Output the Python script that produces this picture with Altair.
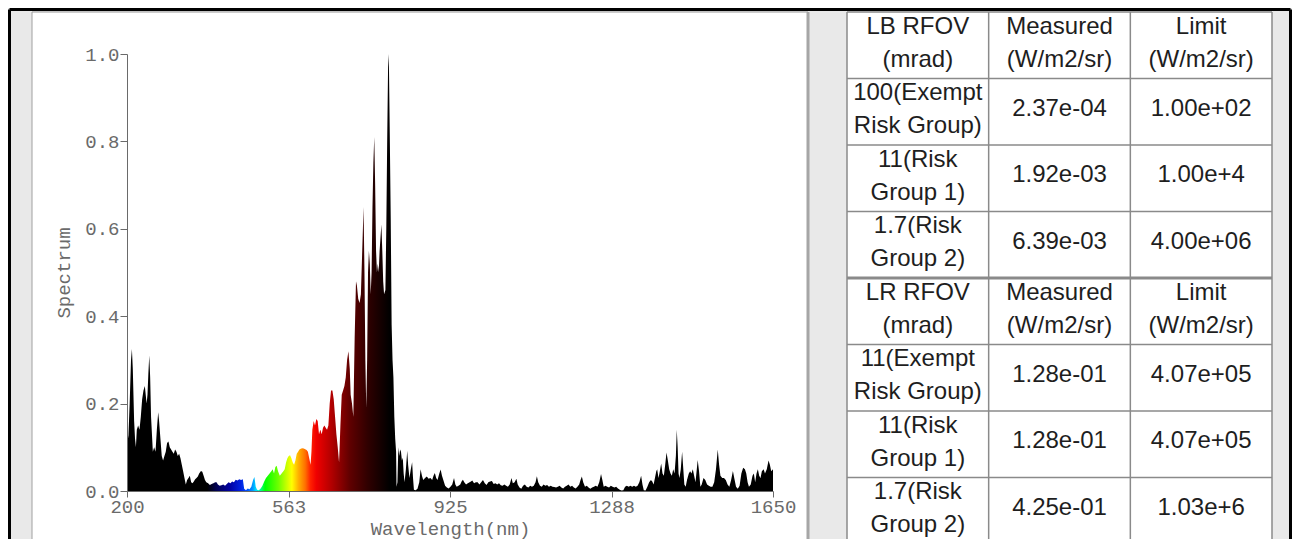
import altair as alt
import pandas as pd

# ---------------- spectrum data ----------------
WAVELENGTH_NM = [
    200, 203, 206, 209, 211, 213, 216, 218, 220, 222, 225, 228, 231, 234, 237, 240,
    242, 244, 246, 248, 250, 252, 254, 256, 258, 261, 264, 267, 270, 272, 275, 278,
    281, 284, 287, 290, 293, 296, 299, 302, 305, 308, 311, 314, 317, 320, 323, 326,
    329, 332, 335, 338, 341, 344, 347, 350, 353, 356, 359, 362, 366, 369, 372, 375,
    378, 382, 386, 390, 394, 398, 401, 404, 408, 412, 416, 420, 424, 428, 432, 436,
    440, 444, 448, 452, 456, 460, 463, 467, 471, 475, 479, 483, 486, 489, 492, 496,
    500, 504, 508, 512, 516, 520, 524, 527, 530, 533, 536, 539, 543, 547, 551, 554,
    557, 560, 563, 566, 569, 572, 575, 578, 581, 584, 587, 591, 595, 599, 603, 606,
    609, 612, 614, 616, 619, 622, 625, 628, 631, 634, 637, 640, 643, 646, 649, 652,
    655, 658, 661, 664, 667, 670, 673, 676, 679, 682, 685, 688, 691, 694, 697, 700,
    702, 705, 708, 711, 714, 716, 719, 722, 725, 728, 731, 733, 735, 737, 739, 741,
    743, 745, 747, 749, 751, 753, 755, 757, 759, 761, 763, 765, 767, 769, 771, 773,
    775, 777, 780, 782, 784, 786, 787, 788, 790, 792, 794, 796, 798, 800, 802, 804,
    805, 807, 809, 811, 813, 815, 817, 819, 821, 823, 826, 829, 831, 834, 837, 840,
    842, 844, 848, 852, 856, 859, 862, 865, 869, 873, 877, 881, 885, 888, 891, 894,
    897, 901, 904, 907, 910, 914, 918, 922, 926, 930, 934, 937, 940, 944, 948, 951,
    954, 957, 961, 965, 969, 972, 975, 979, 983, 987, 991, 995, 999, 1003, 1007, 1011,
    1015, 1019, 1023, 1027, 1031, 1035, 1039, 1043, 1047, 1051, 1055, 1059, 1063, 1066, 1070, 1074,
    1077, 1081, 1085, 1089, 1093, 1097, 1101, 1105, 1109, 1113, 1117, 1120, 1123, 1127, 1131, 1135,
    1139, 1143, 1147, 1151, 1155, 1159, 1163, 1167, 1171, 1175, 1179, 1183, 1187, 1191, 1195, 1199,
    1203, 1207, 1211, 1215, 1218, 1221, 1224, 1228, 1232, 1236, 1240, 1244, 1248, 1252, 1256, 1260,
    1264, 1267, 1270, 1274, 1278, 1282, 1286, 1290, 1294, 1298, 1302, 1306, 1310, 1314, 1318, 1322,
    1326, 1330, 1334, 1338, 1342, 1346, 1350, 1354, 1357, 1360, 1364, 1368, 1372, 1376, 1379, 1382,
    1385, 1388, 1390, 1393, 1396, 1399, 1402, 1405, 1408, 1411, 1414, 1417, 1420, 1423, 1426, 1429,
    1432, 1434, 1436, 1438, 1440, 1443, 1446, 1448, 1451, 1454, 1457, 1461, 1464, 1467, 1470, 1473,
    1476, 1478, 1481, 1484, 1487, 1490, 1494, 1498, 1502, 1506, 1510, 1514, 1518, 1522, 1526, 1529,
    1532, 1536, 1540, 1544, 1548, 1552, 1556, 1560, 1563, 1567, 1571, 1575, 1579, 1583, 1587, 1590,
    1593, 1596, 1600, 1604, 1607, 1610, 1613, 1616, 1619, 1622, 1625, 1629, 1632, 1636, 1640, 1643,
    1646, 1650,
]
SPECTRUM = [
    0.15, 0.12, 0.20, 0.30, 0.325, 0.28, 0.16, 0.12, 0.10, 0.14, 0.15, 0.14, 0.17, 0.21, 0.23, 0.24,
    0.22, 0.20, 0.22, 0.27, 0.31, 0.26, 0.17, 0.13, 0.09, 0.10, 0.09, 0.14, 0.18, 0.16, 0.12, 0.08,
    0.07, 0.08, 0.09, 0.11, 0.113, 0.10, 0.095, 0.09, 0.085, 0.095, 0.09, 0.08, 0.085, 0.075, 0.06, 0.045,
    0.03, 0.015, 0.025, 0.03, 0.035, 0.02, 0.018, 0.022, 0.027, 0.03, 0.033, 0.040, 0.046, 0.044, 0.035, 0.025,
    0.02, 0.018, 0.014, 0.016, 0.018, 0.02, 0.02, 0.015, 0.012, 0.013, 0.015, 0.012, 0.016, 0.02, 0.018, 0.022,
    0.02, 0.026, 0.024, 0.027, 0.025, 0.027, 0.005, 0.002, 0.006, 0.004, 0.01, 0.025, 0.032, 0.01, 0.003, 0.002,
    0.006, 0.012, 0.022, 0.03, 0.035, 0.04, 0.045, 0.05, 0.04, 0.055, 0.058, 0.045, 0.035, 0.04, 0.045, 0.05,
    0.065, 0.075, 0.08, 0.082, 0.075, 0.065, 0.06, 0.07, 0.085, 0.09, 0.095, 0.097, 0.098, 0.096, 0.094, 0.09,
    0.075, 0.06, 0.09, 0.14, 0.16, 0.15, 0.165, 0.16, 0.13, 0.14, 0.13, 0.145, 0.15, 0.145, 0.14, 0.15,
    0.20, 0.23, 0.23, 0.21, 0.17, 0.13, 0.10, 0.065, 0.15, 0.22, 0.23, 0.24, 0.26, 0.30, 0.32, 0.28,
    0.22, 0.20, 0.17, 0.35, 0.48, 0.47, 0.44, 0.43, 0.45, 0.55, 0.65, 0.50, 0.30, 0.19, 0.30, 0.50,
    0.55, 0.52, 0.45, 0.50, 0.65, 0.75, 0.81, 0.70, 0.55, 0.50, 0.52, 0.50, 0.55, 0.58, 0.61, 0.55,
    0.48, 0.45, 0.46, 0.60, 0.80, 0.97, 1.00, 0.97, 0.80, 0.62, 0.38, 0.30, 0.26, 0.17, 0.12, 0.09,
    0.01, 0.02, 0.10, 0.08, 0.095, 0.09, 0.07, 0.076, 0.04, 0.02, 0.05, 0.092, 0.06, 0.03, 0.05, 0.066,
    0.03, 0.003, 0.002, 0.005, 0.02, 0.05, 0.035, 0.025, 0.03, 0.033, 0.028, 0.03, 0.025, 0.035, 0.041, 0.03,
    0.025, 0.04, 0.049, 0.035, 0.025, 0.012, 0.008, 0.006, 0.01, 0.015, 0.03, 0.015, 0.01, 0.012, 0.015, 0.022,
    0.026, 0.02, 0.015, 0.018, 0.02, 0.022, 0.024, 0.018, 0.02, 0.02, 0.015, 0.02, 0.025, 0.018, 0.014, 0.02,
    0.022, 0.023, 0.016, 0.018, 0.015, 0.018, 0.013, 0.012, 0.015, 0.012, 0.01, 0.015, 0.03, 0.018, 0.02, 0.028,
    0.015, 0.008, 0.005, 0.012, 0.015, 0.01, 0.008, 0.012, 0.01, 0.012, 0.02, 0.034, 0.02, 0.012, 0.01, 0.015,
    0.012, 0.014, 0.01, 0.012, 0.01, 0.009, 0.008, 0.01, 0.012, 0.008, 0.006, 0.01, 0.012, 0.015, 0.01, 0.012,
    0.008, 0.006, 0.01, 0.015, 0.025, 0.033, 0.02, 0.01, 0.012, 0.008, 0.005, 0.008, 0.01, 0.012, 0.01, 0.02,
    0.039, 0.025, 0.01, 0.012, 0.01, 0.008, 0.012, 0.01, 0.008, 0.01, 0.006, 0.003, 0.001, 0.002, 0.01, 0.012,
    0.01, 0.012, 0.01, 0.012, 0.01, 0.012, 0.02, 0.035, 0.015, 0.002, 0.001, 0.01, 0.02, 0.025, 0.022, 0.015,
    0.03, 0.045, 0.05, 0.03, 0.045, 0.063, 0.04, 0.035, 0.06, 0.088, 0.07, 0.05, 0.04, 0.035, 0.05, 0.04,
    0.08, 0.14, 0.10, 0.04, 0.03, 0.05, 0.09, 0.06, 0.015, 0.01, 0.025, 0.04, 0.045, 0.04, 0.05, 0.035,
    0.02, 0.04, 0.071, 0.045, 0.01, 0.015, 0.03, 0.025, 0.015, 0.012, 0.01, 0.01, 0.02, 0.05, 0.095, 0.06,
    0.035, 0.03, 0.03, 0.025, 0.015, 0.01, 0.025, 0.046, 0.03, 0.01, 0.005, 0.012, 0.04, 0.053, 0.05, 0.04,
    0.02, 0.01, 0.015, 0.035, 0.04, 0.02, 0.04, 0.05, 0.035, 0.03, 0.045, 0.05, 0.04, 0.05, 0.07, 0.06,
    0.045, 0.05,
]

X_TICKS = [200, 562.5, 925, 1287.5, 1650]
Y_TICKS = [0.0, 0.2, 0.4, 0.6, 0.8, 1.0]

# colour of the fill along the wavelength axis
STOP_NM = [200, 380, 400, 430, 455, 470, 483, 490, 500, 510, 540, 560, 570, 585,
           600, 612, 625, 660, 700, 740, 790, 1650]
STOP_COLOR = ["#000000", "#000000", "#000050", "#0000a0", "#0020e0", "#0050ff", "#00a0ff",
              "#00e0ff", "#00ff90", "#00ff00", "#70ff00", "#d0ff00", "#ffff00", "#ffb000",
              "#ff7000", "#ff2000", "#f00000", "#b00000", "#600000", "#300000", "#000000",
              "#000000"]

# ---------------- table texts ----------------
HEAD_LB = ["LB RFOV\n(mrad)", "Measured\n(W/m2/sr)", "Limit\n(W/m2/sr)"]
LB_GROUP = ["100(Exempt\nRisk Group)", "11(Risk\nGroup 1)", "1.7(Risk\nGroup 2)"]
LB_MEASURED = ["2.37e-04", "1.92e-03", "6.39e-03"]
LB_LIMIT = ["1.00e+02", "1.00e+4", "4.00e+06"]
HEAD_LR = ["LR RFOV\n(mrad)", "Measured\n(W/m2/sr)", "Limit\n(W/m2/sr)"]
LR_GROUP = ["11(Exempt\nRisk Group)", "11(Risk\nGroup 1)", "1.7(Risk\nGroup 2)"]
LR_MEASURED = ["1.28e-01", "1.28e-01", "4.25e-01"]
LR_LIMIT = ["4.07e+05", "4.07e+05", "1.03e+6"]

# ---------------- build tables ----------------
spec_df = pd.DataFrame({"wl": WAVELENGTH_NM, "s": SPECTRUM})

rows = [HEAD_LB] + [list(r) for r in zip(LB_GROUP, LB_MEASURED, LB_LIMIT)] + \
       [HEAD_LR] + [list(r) for r in zip(LR_GROUP, LR_MEASURED, LR_LIMIT)]
cells = []
for ri, r in enumerate(rows):
    for ci, t in enumerate(r):
        cells.append({"col": ci, "row": ri, "txt": t, "two": "\n" in t})
cell_df = pd.DataFrame(cells)
n_rows = len(rows)
n_cols = 3
hline_df = pd.DataFrame({"row": list(range(n_rows + 1)),
                         "w": [3 if i == 4 else 1.5 for i in range(n_rows + 1)]})
vline_df = pd.DataFrame({"col": list(range(n_cols + 1)), "r0": 0, "r1": n_rows})
tab_bg_df = pd.DataFrame({"c0": [0], "c1": [n_cols], "r0": [0], "r1": [n_rows]})

W, H = 646, 437
LINE_H = 33
TX = alt.Scale(domain=[0, n_cols], range=[720, 1145], nice=False, zero=False)
TY = alt.Scale(domain=[0, n_rows], range=[-42, -42 + 66.5 * n_rows], nice=False, zero=False)

gradient = {
    "gradient": "linear", "x1": 0, "x2": 1, "y1": 0, "y2": 0,
    "stops": [{"offset": (nm - STOP_NM[0]) / (STOP_NM[-1] - STOP_NM[0]), "color": c}
              for nm, c in zip(STOP_NM, STOP_COLOR)],
}

one = pd.DataFrame({"k": [0]})
MONO = "Liberation Mono"
AX = "#6a6a6a"

# outer black border (left, top, right)
border_l = alt.Chart(one).mark_rule(color="black", strokeWidth=3).encode(
    x=alt.value(-117.5), y=alt.value(-44.5), y2=alt.value(520))
border_t = alt.Chart(one).mark_rule(color="black", strokeWidth=3).encode(
    x=alt.value(-117.5), x2=alt.value(1163.5), y=alt.value(-44.5))
border_r = alt.Chart(one).mark_rule(color="black", strokeWidth=3).encode(
    x=alt.value(1163.5), y=alt.value(-44.5), y2=alt.value(520))

# white frame round the plot
frame = alt.Chart(one).mark_rect(fill="white").encode(
    x=alt.value(-95), x2=alt.value(681), y=alt.value(-42), y2=alt.value(520))
frame_l = alt.Chart(one).mark_rule(color="#a0a0a0", strokeWidth=1).encode(
    x=alt.value(-95), y=alt.value(-42), y2=alt.value(520))
frame_t = alt.Chart(one).mark_rule(color="#999999", strokeWidth=1).encode(
    x=alt.value(-95), x2=alt.value(681), y=alt.value(-42))
frame_r = alt.Chart(one).mark_rule(color="#a6a6a6", strokeWidth=3).encode(
    x=alt.value(681), y=alt.value(-42), y2=alt.value(520))

area = alt.Chart(spec_df).mark_area(fill=gradient, opacity=1, interpolate="linear").encode(
    x=alt.X("wl:Q", scale=alt.Scale(domain=[200, 1650], nice=False, zero=False),
            axis=alt.Axis(values=X_TICKS, format="d", title="Wavelength(nm)", grid=False,
                          labelFlush=False, labelOverlap=False, tickSize=6, labelPadding=0,
                          domainColor=AX, tickColor=AX, labelColor=AX, titleColor=AX,
                          labelFont=MONO, titleFont=MONO, labelFontSize=19, titleFontSize=19,
                          titleFontWeight="normal", titleY=37, titleBaseline="middle",
                          zindex=2)),
    y=alt.Y("s:Q", scale=alt.Scale(domain=[0, 1], nice=False, zero=False),
            axis=alt.Axis(values=Y_TICKS, format=".1f", title="Spectrum", grid=False,
                          tickSize=7, labelPadding=1,
                          domainColor=AX, tickColor=AX, labelColor=AX, titleColor=AX,
                          labelFont=MONO, titleFont=MONO, labelFontSize=19, titleFontSize=19,
                          titleFontWeight="normal", titleX=-64, titleY=H / 2,
                          titleAngle=270, titleBaseline="middle", titleAlign="center",
                          zindex=2)),
)

tab_bg = alt.Chart(tab_bg_df).mark_rect(fill="white").encode(
    x=alt.X("c0:Q", scale=TX, axis=None), x2="c1:Q",
    y=alt.Y("r0:Q", scale=TY, axis=None), y2="r1:Q")

hlines = alt.Chart(hline_df).transform_calculate(c0="0", c1=str(n_cols)).mark_rule(
    color="#8a8a8a").encode(
    x=alt.X("c0:Q", scale=TX, axis=None), x2="c1:Q",
    y=alt.Y("row:Q", scale=TY, axis=None),
    strokeWidth=alt.StrokeWidth("w:Q", scale=None, legend=None))

vlines = alt.Chart(vline_df).mark_rule(color="#8a8a8a", strokeWidth=1.5).encode(
    x=alt.X("col:Q", scale=TX, axis=None),
    y=alt.Y("r0:Q", scale=TY, axis=None), y2="r1:Q")


def text_layer(two_lines):
    return alt.Chart(cell_df).transform_filter(
        "datum.two" if two_lines else "!datum.two"
    ).transform_calculate(cx="datum.col + 0.5", cy="datum.row + 0.5").mark_text(
        font="Liberation Sans", fontSize=24, color="#1e1e1e", align="center",
        baseline="middle", lineBreak="\n", lineHeight=LINE_H,
        dy=(-2 - LINE_H / 2) if two_lines else -3).encode(
        x=alt.X("cx:Q", scale=TX, axis=None),
        y=alt.Y("cy:Q", scale=TY, axis=None),
        text="txt:N")


chart = alt.layer(
    border_l, border_t, border_r, frame, frame_l, frame_t, frame_r,
    area, tab_bg, hlines, vlines, text_layer(True), text_layer(False),
).resolve_scale(x="independent", y="independent").properties(
    width=W, height=H, padding=0, background="#e9e9e9"
).configure_view(stroke=None)

chart.save("out.html", embed_options={"renderer": "svg", "actions": False})
